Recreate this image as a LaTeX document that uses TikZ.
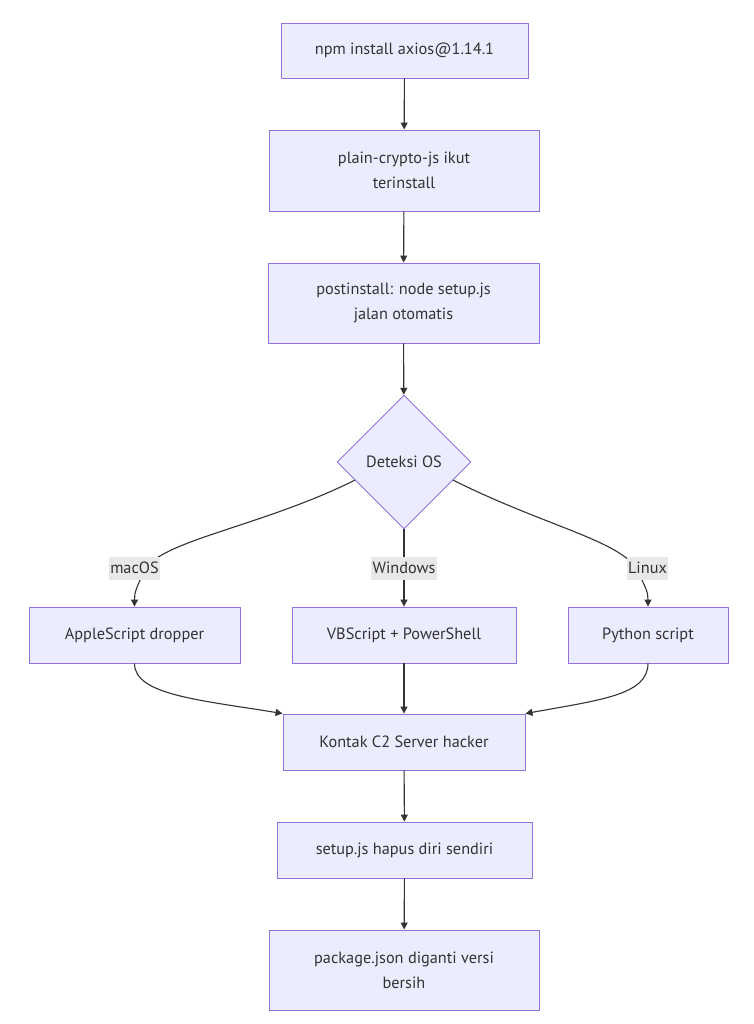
\documentclass[tikz,border=0pt]{standalone}
\usepackage{fontspec}
\setmainfont{PT Sans}
\usepackage{xcolor}
\usepackage{tikz}
\usetikzlibrary{arrows.meta,positioning,calc,shapes.geometric}
\definecolor{FlowFill}{HTML}{ECECFF}
\definecolor{FlowBorder}{HTML}{9370DB}
\definecolor{FlowInk}{HTML}{333333}
\definecolor{FlowLabel}{HTML}{E8E8E8}
\newcommand{\flowbox}[3]{%
  \node[draw=FlowBorder,fill=FlowFill,line width=0.9pt,text=FlowInk,
        align=center,inner sep=0pt,font=\fontsize{16.3}{25}\selectfont,#3] (#1)
        {#2};%
}
\tikzset{
  flowline/.style={->,FlowInk,line width=1.1pt},
  edgelabel/.style={fill=FlowLabel,text=FlowInk,inner xsep=1.5pt,inner ysep=0pt,
                    minimum height=23pt,font=\fontsize{16.3}{19}\selectfont}
}

\begin{document}
\begin{tikzpicture}[x=1pt,y=-1pt,>={Triangle[length=7pt,width=7pt]}]
    \useasboundingbox (0,0) rectangle (753,1024);
    \flowbox{npm}{npm install axios@1.14.1}{minimum width=247pt,minimum height=55pt,at={(404.5,50.5)}}
    \flowbox{crypto}{plain-crypto-js ikut\\terinstall}{minimum width=270pt,minimum height=81pt,at={(404,170.5)}}
    \flowbox{postinst}{postinstall: node setup.js\\jalan otomatis}{minimum width=271pt,minimum height=80pt,at={(403.5,303)}}
    \flowbox{detect}{Deteksi OS}{shape=diamond,aspect=1,minimum width=134pt,minimum height=134pt,at={(404,462)}}
    \flowbox{apple}{AppleScript dropper}{minimum width=211pt,minimum height=56pt,at={(134.5,635)}}
    \flowbox{vbs}{VBScript + PowerShell}{minimum width=224pt,minimum height=56pt,at={(404,635)}}
    \flowbox{python}{Python script}{minimum width=160pt,minimum height=56pt,at={(648,635)}}
    \flowbox{kontak}{Kontak C2 Server hacker}{minimum width=242pt,minimum height=56pt,at={(404,742)}}
    \flowbox{selfdel}{setup.js hapus diri sendiri}{minimum width=255pt,minimum height=56pt,at={(404.5,850)}}
    \flowbox{pkgjson}{package.json diganti versi\\bersih}{minimum width=270pt,minimum height=80pt,at={(404,970)}}
    \draw[flowline] (npm) -- (crypto);
    \draw[flowline] (crypto) -- (postinst);
    \draw[flowline] (postinst) -- (detect);
    % cabang per OS
    \coordinate (macout) at ($(detect.west)!0.27!(detect.south)$);
    \coordinate (linout) at ($(detect.east)!0.27!(detect.south)$);
    \draw[flowline] (macout) .. controls (265,525) and (165,540) .. (146,568)
        .. controls (136,588) and (134.5,592) .. (apple.north);
    \draw[flowline] (detect) -- (vbs);
    \draw[flowline] (linout) .. controls (543,525) and (617,540) .. (636,568)
        .. controls (646,588) and (648,592) .. (python.north);
    \node[edgelabel] (maclbl) at (134.5,568) {macOS};
    \node[edgelabel] (winlbl) at (404,568) {Windows};
    \node[edgelabel] (linlbl) at (647.5,568) {Linux};
    \draw[flowline] (apple.south) .. controls (134.5,695) and (200,700) .. (kontak.north west);
    \draw[flowline] (vbs) -- (kontak);
    \draw[flowline] (python.south) .. controls (648,695) and (600,700) .. (kontak.north east);
    \draw[flowline] (kontak) -- (selfdel);
    \draw[flowline] (selfdel) -- (pkgjson);
  \end{tikzpicture}
\end{document}
